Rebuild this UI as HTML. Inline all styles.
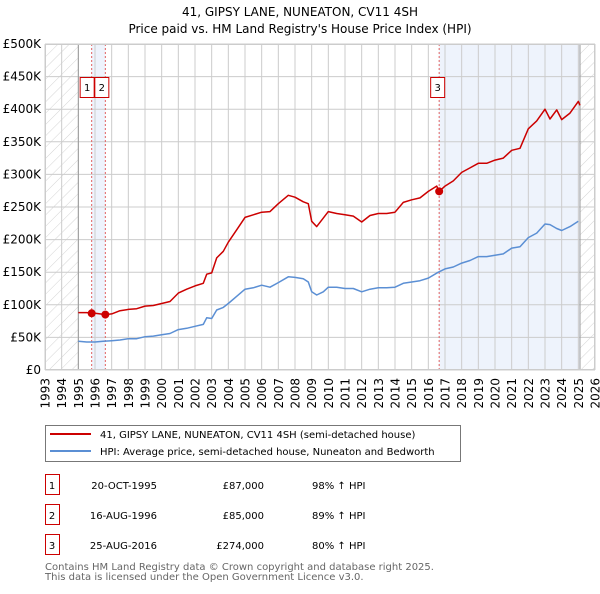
<!DOCTYPE html>
<html><head><meta charset="utf-8"><style>
body{margin:0;background:#fff;font-family:"DejaVu Sans","Liberation Sans",sans-serif;}
svg text{font-family:"DejaVu Sans","Liberation Sans",sans-serif;}
</style></head><body>
<svg id="c" width="600" height="590" viewBox="0 0 600 590" xmlns="http://www.w3.org/2000/svg">
<defs><pattern id="hatch" width="8" height="8" patternUnits="userSpaceOnUse" patternTransform="rotate(45)"><line x1="0" y1="0" x2="0" y2="8" stroke="#d4d4d4" stroke-width="1"/></pattern></defs>
<text x="300" y="16" text-anchor="middle" font-size="12">41, GIPSY LANE, NUNEATON, CV11 4SH</text>
<text x="300" y="33" text-anchor="middle" font-size="12">Price paid vs. HM Land Registry's House Price Index (HPI)</text>
<g id="plot"></g>
<g>
<rect x="45.5" y="425.5" width="415" height="36" fill="#fff" stroke="#777"/>
<line x1="50" y1="434" x2="91" y2="434" stroke="#cc0000" stroke-width="2"/>
<text x="100" y="438" font-size="10">41, GIPSY LANE, NUNEATON, CV11 4SH (semi-detached house)</text>
<line x1="50" y1="451" x2="91" y2="451" stroke="#5b8fd4" stroke-width="2"/>
<text x="100" y="455" font-size="10">HPI: Average price, semi-detached house, Nuneaton and Bedworth</text>
</g>
<g id="table" font-size="10"></g>
<text x="45" y="570" font-size="10" fill="#666">Contains HM Land Registry data © Crown copyright and database right 2025.</text>
<text x="45" y="580" font-size="10" fill="#666">This data is licensed under the Open Government Licence v3.0.</text>
</svg>
<script>
const yTicks=[0,50,100,150,200,250,300,350,400,450,500];
const yTickLabels=["£0","£50K","£100K","£150K","£200K","£250K","£300K","£350K","£400K","£450K","£500K"];
const years=[1993,1994,1995,1996,1997,1998,1999,2000,2001,2002,2003,2004,2005,2006,2007,2008,2009,2010,2011,2012,2013,2014,2015,2016,2017,2018,2019,2020,2021,2022,2023,2024,2025,2026];
const hpiT=[1995,1995.5,1996,1996.5,1997,1997.5,1998,1998.5,1999,1999.5,2000,2000.5,2001,2001.5,2002,2002.5,2002.7,2003,2003.3,2003.7,2004,2004.5,2005,2005.5,2006,2006.5,2007,2007.6,2008,2008.5,2008.8,2009,2009.3,2009.7,2010,2010.5,2011,2011.5,2012,2012.5,2013,2013.5,2014,2014.5,2015,2015.5,2016,2016.6,2017,2017.5,2018,2018.5,2019,2019.5,2020,2020.5,2021,2021.5,2022,2022.5,2023,2023.3,2023.7,2024,2024.5,2025];
const hpiV=[44,43,43,44,45,46,48,48,51,52,54,56,62,64,67,70,80,79,92,96,102,113,124,126,130,127,134,143,142,140,135,120,115,120,127,127,125,125,120,124,126,126,127,133,135,137,141,150,155,158,164,168,174,174,176,178,187,189,203,210,224,223,217,214,220,228];
const redT=[1995,1995.5,1995.8,1996,1996.3,1996.6,1997,1997.5,1998,1998.5,1999,1999.5,2000,2000.5,2001,2001.5,2002,2002.5,2002.7,2003,2003.3,2003.7,2004,2004.5,2005,2005.5,2006,2006.5,2007,2007.6,2008,2008.5,2008.8,2009,2009.3,2009.7,2010,2010.5,2011,2011.5,2012,2012.5,2013,2013.5,2014,2014.5,2015,2015.5,2016,2016.5,2016.65,2017,2017.5,2018,2018.5,2019,2019.5,2020,2020.5,2021,2021.5,2022,2022.5,2023,2023.3,2023.7,2024,2024.5,2025,2025.1];
const redV=[88,88,87,87,86,85,86,91,93,94,98,99,102,105,118,124,129,133,147,149,172,182,196,215,234,238,242,243,255,268,265,258,255,228,220,233,243,240,238,236,227,237,240,240,242,257,261,264,274,282,274,282,290,303,310,317,317,322,325,337,340,370,382,400,385,399,384,394,412,406];
const sales=[[1995.8,87],[1996.62,85],[2016.65,274]];
const saleLabels=["1","2","3"];
const saleDates=["20-OCT-1995","16-AUG-1996","25-AUG-2016"];
const salePrices=["£87,000","£85,000","£274,000"];
const saleHpi=["98% ↑ HPI","89% ↑ HPI","80% ↑ HPI"];

const NS="http://www.w3.org/2000/svg";
const X0=45,X1=595,Y0=370,Y1=44;
const xs=t=>X0+(t-1993)/(2026-1993)*(X1-X0);
const ys=v=>Y0-v/500*(Y0-Y1);
const plot=document.getElementById('plot');
function mk(tag,attrs,parent){const e=document.createElementNS(NS,tag);for(const k in attrs)e.setAttribute(k,attrs[k]);(parent||plot).appendChild(e);return e;}
let e;
e=mk('rect',{x:xs(1995.8),y:Y1,width:xs(1996.62)-xs(1995.8),height:Y0-Y1,fill:'#eef3fc'});

e=mk('rect',{x:xs(2016.65),y:Y1,width:xs(2025.1)-xs(2016.65),height:Y0-Y1,fill:'#eef3fc'});

e=mk('rect',{x:X0,y:Y1,width:xs(1995)-X0,height:Y0-Y1,fill:'url(#hatch)'});

e=mk('rect',{x:xs(2025.1),y:Y1,width:X1-xs(2025.1),height:Y0-Y1,fill:'url(#hatch)'});

years.forEach((y,i)=>{
 const g=mk('line',{x1:xs(y),x2:xs(y),y1:Y1,y2:Y0,stroke:'#ccc','stroke-width':1});
 
 const t=mk('text',{x:0,y:0,'font-size':12,'text-anchor':'end',transform:`translate(${xs(y)+4.5},${Y0+8}) rotate(-90)`});
 t.textContent=y;
});
yTicks.forEach((v,i)=>{
 const g=mk('line',{x1:X0,x2:X1,y1:ys(v),y2:ys(v),stroke:'#ccc','stroke-width':1});
 
 const t=mk('text',{x:X0-4,y:ys(v)+4,'font-size':12,'text-anchor':'end'});
 t.textContent=yTickLabels[i];
});
e=mk('line',{x1:xs(1995),x2:xs(1995),y1:Y1,y2:Y0,stroke:'#999'});

e=mk('line',{x1:xs(2025.1),x2:xs(2025.1),y1:Y1,y2:Y0,stroke:'#999'});

sales.forEach((s,i)=>{
 const l=mk('line',{x1:xs(s[0]),x2:xs(s[0]),y1:Y1,y2:Y0,stroke:'#e06060','stroke-dasharray':'2,2'});
 
});
function path(T,V,col,name){
 const d=T.map((t,i)=>(i?'L':'M')+xs(t).toFixed(1)+','+ys(V[i]).toFixed(1)).join('');
 const p=mk('path',{d:d,fill:'none',stroke:col,'stroke-width':1.5,'stroke-linejoin':'round'});
 
}
path(hpiT,hpiV,'#5b8fd4','hpi-line');
path(redT,redV,'#cc0000','property-price-line');
sales.forEach((s,i)=>{
 const c=mk('circle',{cx:xs(s[0]),cy:ys(s[1]),r:4,fill:'#cc0000'});
 
 const bx=i===0?xs(s[0])-12:(i===1?xs(s[0])-11:xs(s[0])-9);
 const r=mk('rect',{x:bx+0.5,y:77.5,width:14,height:20,fill:'#fff',stroke:'#cc0000'});
 
 const t=mk('text',{x:bx+7.5,y:91,'font-size':10,'text-anchor':'middle'});
 t.textContent=saleLabels[i];
});
e=mk('rect',{x:X0+0.5,y:Y1+0.5,width:X1-X0-1,height:Y0-Y1-1,fill:'none',stroke:'#ccc'});

const tb=document.getElementById('table');
saleLabels.forEach((s,i)=>{
 const y=485+i*30;
 let r=mk('rect',{x:45.5,y:y-10.5,width:14,height:20,fill:'#fff',stroke:'#cc0000'},tb);
 
 const cells=[[52,s,'middle'],[157,saleDates[i],'end'],[264,salePrices[i],'end'],[312,saleHpi[i],'start']];
 cells.forEach(c=>{const t=mk('text',{x:c[0],y:y+4,'text-anchor':c[2]},tb);t.textContent=c[1];
 });
});
</script>
</body></html>
